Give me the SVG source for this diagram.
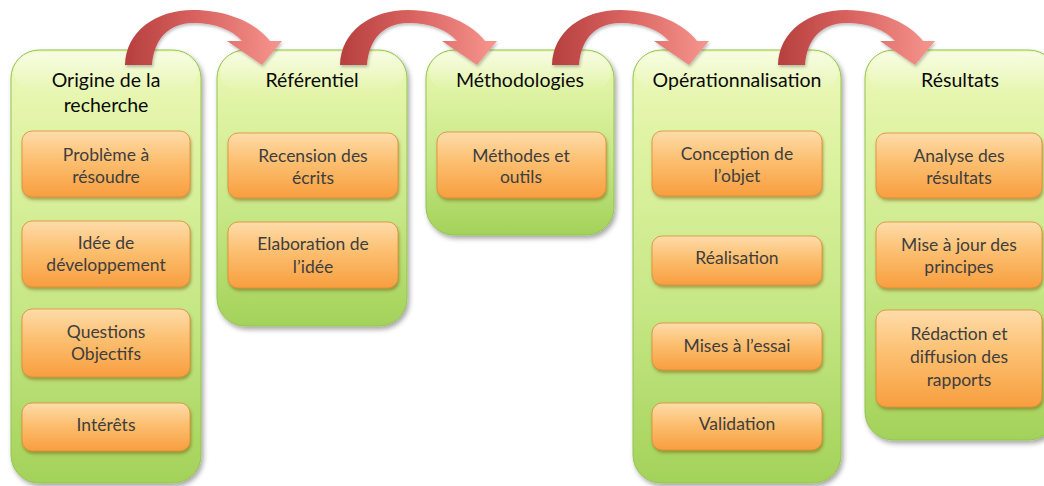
<svg xmlns="http://www.w3.org/2000/svg" width="1044" height="486" viewBox="0 0 1044 486">
  <style>
    .panel { fill: url(#gGreen); stroke: #94c350; stroke-width: 1; filter: url(#shadowPanel); }
    .gloss { fill: url(#gGloss); }
    .box { fill: url(#gOrange); stroke: #e08a33; stroke-width: 0.8; filter: url(#shadowBox); }
    .title { font-family: Lato, "Liberation Sans", sans-serif; font-size: 19.5px; fill: #0a0a0a; text-anchor: middle; }
    .label { font-family: Lato, "Liberation Sans", sans-serif; font-size: 17.5px; fill: #3e3e3e; text-anchor: middle; }
    .arrow { fill: url(#gArrow); filter: url(#shadowArrow); }
  </style>
  <defs>
    <linearGradient id="gGreen" x1="0" y1="0" x2="0" y2="1">
      <stop offset="0" stop-color="#eef9be"/>
      <stop offset="0.18" stop-color="#e1f4a6"/>
      <stop offset="0.6" stop-color="#c6e785"/>
      <stop offset="1" stop-color="#a3d25a"/>
    </linearGradient>
    <linearGradient id="gGloss" x1="0" y1="0" x2="0" y2="1">
      <stop offset="0" stop-color="#ffffff" stop-opacity="0.55"/>
      <stop offset="1" stop-color="#ffffff" stop-opacity="0"/>
    </linearGradient>
    <linearGradient id="gOrange" x1="0" y1="0" x2="0" y2="1">
      <stop offset="0" stop-color="#fedcaa"/>
      <stop offset="0.45" stop-color="#fcbf70"/>
      <stop offset="1" stop-color="#f89e3f"/>
    </linearGradient>
    <linearGradient id="gArrow" x1="0" y1="0.5" x2="1" y2="0.5">
      <stop offset="0" stop-color="#b63f3e"/>
      <stop offset="0.45" stop-color="#d8625f"/>
      <stop offset="1" stop-color="#f7958e"/>
    </linearGradient>
    <filter id="shadowPanel" x="-10%" y="-10%" width="125%" height="125%">
      <feDropShadow dx="2" dy="3" stdDeviation="2.5" flood-color="#000" flood-opacity="0.35"/>
    </filter>
    <filter id="shadowBox" x="-10%" y="-10%" width="125%" height="135%">
      <feDropShadow dx="1" dy="2.5" stdDeviation="1.8" flood-color="#6b4a10" flood-opacity="0.45"/>
    </filter>
    <filter id="shadowArrow" x="-10%" y="-10%" width="125%" height="130%">
      <feDropShadow dx="1" dy="2" stdDeviation="1.5" flood-color="#000" flood-opacity="0.25"/>
    </filter>
    <!-- curved arrow, tail base at x=0..27, head tip at x=137 -->
    <path id="curvedArrow" d="M0,65 C1,31 31,10 68,10 C104,10 132,24 145,41 L157,41 L137,65 L102,41 L117,41 C107,30 91,23 68,23 C44,23 29,39 27,65 Z"/>
  </defs>

  <!-- Origine de la recherche -->
  <g id="col-origine">
    <rect class="panel" x="11" y="50" width="190" height="433" rx="28"/>
    <rect class="gloss" x="14" y="52" width="184" height="40" rx="24"/>
    <text class="title" x="106" y="87">Origine de la</text>
    <text class="title" x="106" y="112">recherche</text>
    <g id="box-probleme">
      <rect class="box" x="22" y="131" width="168" height="66" rx="10"/>
      <text class="label" x="106" y="161">Problème à</text>
      <text class="label" x="106" y="183">résoudre</text>
    </g>
    <g id="box-idee">
      <rect class="box" x="22" y="221" width="168" height="66" rx="10"/>
      <text class="label" x="106" y="249">Idée de</text>
      <text class="label" x="106" y="271">développement</text>
    </g>
    <g id="box-questions">
      <rect class="box" x="22" y="309" width="168" height="68" rx="10"/>
      <text class="label" x="106" y="338">Questions</text>
      <text class="label" x="106" y="360">Objectifs</text>
    </g>
    <g id="box-interets">
      <rect class="box" x="22" y="403" width="168" height="48" rx="10"/>
      <text class="label" x="106" y="431">Intérêts</text>
    </g>
  </g>

  <!-- Référentiel -->
  <g id="col-referentiel">
    <rect class="panel" x="217" y="50" width="190" height="276" rx="28"/>
    <rect class="gloss" x="220" y="52" width="184" height="40" rx="24"/>
    <text class="title" x="312" y="87">Référentiel</text>
    <g id="box-recension">
      <rect class="box" x="228" y="133" width="170" height="65" rx="10"/>
      <text class="label" x="313" y="162">Recension des</text>
      <text class="label" x="313" y="184">écrits</text>
    </g>
    <g id="box-elaboration">
      <rect class="box" x="228" y="222" width="170" height="66" rx="10"/>
      <text class="label" x="313" y="250">Elaboration de</text>
      <text class="label" x="313" y="273">l’idée</text>
    </g>
  </g>

  <!-- Méthodologies -->
  <g id="col-methodologies">
    <rect class="panel" x="426" y="50" width="188" height="185" rx="28"/>
    <rect class="gloss" x="429" y="52" width="182" height="40" rx="24"/>
    <text class="title" x="520" y="87">Méthodologies</text>
    <g id="box-methodes">
      <rect class="box" x="437" y="132" width="169" height="66" rx="10"/>
      <text class="label" x="521" y="162">Méthodes et</text>
      <text class="label" x="521" y="183">outils</text>
    </g>
  </g>

  <!-- Opérationnalisation -->
  <g id="col-operationnalisation">
    <rect class="panel" x="633" y="50" width="208" height="433" rx="28"/>
    <rect class="gloss" x="636" y="52" width="202" height="40" rx="24"/>
    <text class="title" x="737" y="87">Opérationnalisation</text>
    <g id="box-conception">
      <rect class="box" x="652" y="131" width="170" height="65" rx="10"/>
      <text class="label" x="737" y="160">Conception de</text>
      <text class="label" x="737" y="182">l’objet</text>
    </g>
    <g id="box-realisation">
      <rect class="box" x="652" y="236" width="170" height="49" rx="10"/>
      <text class="label" x="737" y="264">Réalisation</text>
    </g>
    <g id="box-essai">
      <rect class="box" x="652" y="323" width="170" height="47" rx="10"/>
      <text class="label" x="737" y="352">Mises à l’essai</text>
    </g>
    <g id="box-validation">
      <rect class="box" x="652" y="403" width="170" height="47" rx="10"/>
      <text class="label" x="737" y="430">Validation</text>
    </g>
  </g>

  <!-- Résultats -->
  <g id="col-resultats">
    <rect class="panel" x="865" y="50" width="192" height="390" rx="28"/>
    <rect class="gloss" x="868" y="52" width="186" height="40" rx="24"/>
    <text class="title" x="960" y="87">Résultats</text>
    <g id="box-analyse">
      <rect class="box" x="876" y="133" width="166" height="65" rx="10"/>
      <text class="label" x="959" y="162">Analyse des</text>
      <text class="label" x="959" y="184">résultats</text>
    </g>
    <g id="box-miseajour">
      <rect class="box" x="876" y="222" width="166" height="66" rx="10"/>
      <text class="label" x="959" y="251">Mise à jour des</text>
      <text class="label" x="959" y="273">principes</text>
    </g>
    <g id="box-redaction">
      <rect class="box" x="876" y="310" width="166" height="97" rx="10"/>
      <text class="label" x="959" y="340">Rédaction et</text>
      <text class="label" x="959" y="363">diffusion des</text>
      <text class="label" x="959" y="386">rapports</text>
    </g>
  </g>

  <!-- connectors: curved arrows between stages -->
  <g id="connectors">
    <use href="#curvedArrow" class="arrow" transform="translate(125,0)"/>
    <use href="#curvedArrow" class="arrow" transform="translate(340,0)"/>
    <use href="#curvedArrow" class="arrow" transform="translate(552,0)"/>
    <use href="#curvedArrow" class="arrow" transform="translate(778,0)"/>
  </g>
</svg>
